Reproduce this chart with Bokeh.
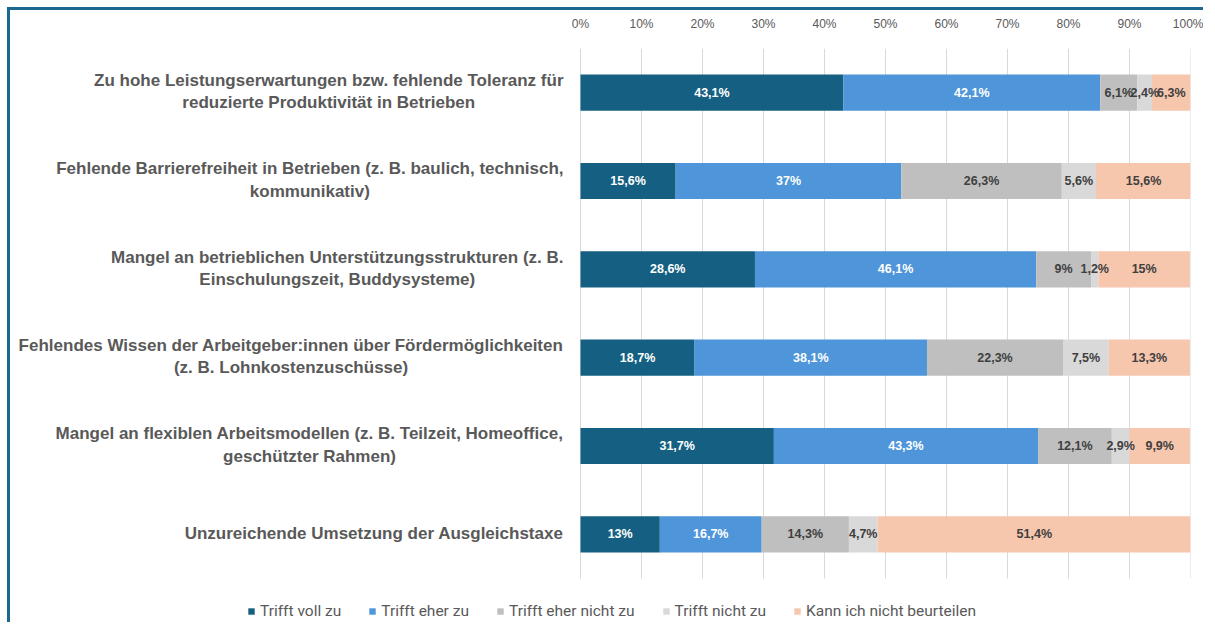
import numpy as np
from bokeh.plotting import figure
from bokeh.core.properties import value
from bokeh.models import ColumnDataSource, Range1d, FixedTicker, Label, LabelSet, Legend, LegendItem
from bokeh.embed import file_html
from bokeh.resources import INLINE

categories = [
    "Zu hohe Leistungserwartungen bzw. fehlende Toleranz für\nreduzierte Produktivität in Betrieben",
    "Fehlende Barrierefreiheit in Betrieben (z. B. baulich, technisch,\nkommunikativ)",
    "Mangel an betrieblichen Unterstützungsstrukturen (z. B.\nEinschulungszeit, Buddysysteme)",
    "Fehlendes Wissen der Arbeitgeber:innen über Fördermöglichkeiten\n(z. B. Lohnkostenzuschüsse)",
    "Mangel an flexiblen Arbeitsmodellen (z. B. Teilzeit, Homeoffice,\ngeschützter Rahmen)",
    "Unzureichende Umsetzung der Ausgleichstaxe",
]
series_names = ["Trifft voll zu", "Trifft eher zu", "Trifft eher nicht zu", "Trifft nicht zu", "Kann ich nicht beurteilen"]
trifft_voll_zu = [43.1, 15.6, 28.6, 18.7, 31.7, 13.0]
trifft_eher_zu = [42.1, 37.0, 46.1, 38.1, 43.3, 16.7]
trifft_eher_nicht_zu = [6.1, 26.3, 9.0, 22.3, 12.1, 14.3]
trifft_nicht_zu = [2.4, 5.6, 1.2, 7.5, 2.9, 4.7]
kann_nicht_beurteilen = [6.3, 15.6, 15.0, 13.3, 9.9, 51.4]
tick_values = [0, 10, 20, 30, 40, 50, 60, 70, 80, 90, 100]
tick_labels = ["0%", "10%", "20%", "30%", "40%", "50%", "60%", "70%", "80%", "90%", "100%"]

series_values = [trifft_voll_zu, trifft_eher_zu, trifft_eher_nicht_zu, trifft_nicht_zu, kann_nicht_beurteilen]
colors = ["#156082", "#4E95D9", "#BFBFBF", "#D9D9D9", "#F6C6AD"]
label_colors = ["#FFFFFF", "#FFFFFF", "#404040", "#404040", "#404040"]

FONT = "Liberation Sans"
LEG_FONT = "Roboto"
GRAY = "#595959"

n = len(categories)
# row positions on the y scale: first category at the top
ypos = (n - 0.5) - np.arange(n)

# frame covers the label column on the left and the legend strip below the bars
p = figure(width=1196, height=615, output_backend="svg", toolbar_location=None,
           x_range=Range1d(-570 / 6.1, 100), y_range=Range1d(-47 / (530 / n), n),
           x_axis_location="above",
           min_border_left=0, min_border_right=16, min_border_top=38, min_border_bottom=0)
p.outline_line_color = None
p.styles = {"border-top": "3px solid #1a6790", "border-left": "3px solid #1a6790",
            "margin-left": "7px", "margin-top": "7px"}

p.xaxis.ticker = FixedTicker(ticks=tick_values)
p.xaxis.major_label_overrides = {v: l for v, l in zip(tick_values, tick_labels)}
p.xaxis.axis_line_color = None
p.xaxis.major_tick_line_color = None
p.xaxis.minor_tick_line_color = None
p.xaxis.major_label_text_font = FONT
p.xaxis.major_label_text_font_size = "12px"
p.xaxis.major_label_text_color = GRAY
p.xaxis.major_label_standoff = 12
p.yaxis.visible = False
p.xgrid.grid_line_color = None
p.ygrid.grid_line_color = None

# vertical gridlines at the tick values, spanning the bar area only
p.segment(x0=tick_values, x1=tick_values, y0=0, y1=n, line_color="#D9D9D9", line_width=1)

left = np.zeros(n)
legend_items = []
for name, vals, col, lcol in zip(series_names, series_values, colors, label_colors):
    vals = np.array(vals, dtype=float)
    right = left + vals
    src = ColumnDataSource(dict(
        y=ypos, left=left, right=right, mid=(left + right) / 2,
        txt=[(f"{v:g}".replace(".", ",") + "%") for v in vals],
    ))
    r = p.hbar(y="y", left="left", right="right", height=0.41, source=src,
               fill_color=col, line_color=None)
    legend_items.append(LegendItem(label=name, renderers=[r]))
    p.add_layout(LabelSet(x="mid", y="y", text="txt", source=src, text_align="center",
                          text_baseline="middle", text_font=value(FONT), text_font_size="12.5px",
                          text_font_style="bold", text_color=lcol))
    left = right

for cat, yc in zip(categories, ypos):
    p.add_layout(Label(x=0, x_offset=-17, y=yc, y_offset=1, text=cat, anchor="center_right",
                       text_align="center", text_baseline="middle", text_font=FONT,
                       text_font_size="17px", text_font_style="bold", text_color=GRAY,
                       text_line_height=1.18))

legend = Legend(items=legend_items, orientation="horizontal", location=(237, 5),
                glyph_width=8, glyph_height=8, label_text_font=LEG_FONT,
                label_text_font_size="15.5px", label_text_color=GRAY, label_standoff=5,
                spacing=27, border_line_color=None, background_fill_alpha=0,
                padding=0, margin=0, label_height=16)
p.add_layout(legend)

open("out.html", "w").write(file_html(p, INLINE))
